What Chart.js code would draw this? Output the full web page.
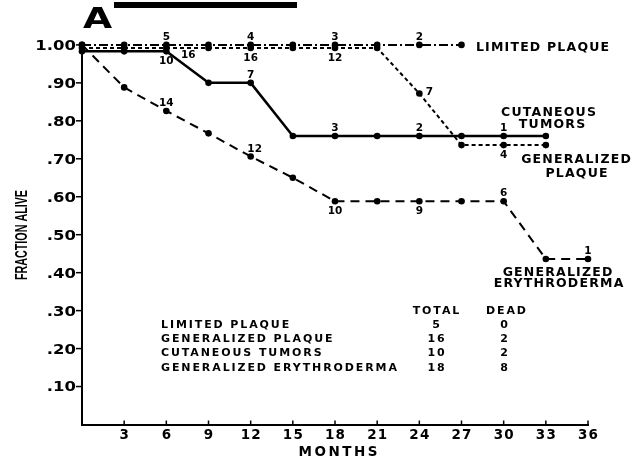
<!DOCTYPE html>
<html>
<head>
<meta charset="utf-8">
<script src="https://cdn.jsdelivr.net/npm/chart.js@4.4.1/dist/chart.umd.min.js"></script>
<style>
  html, body { margin: 0; padding: 0; background: #fff; }
</style>
</head>
<body>
<canvas id="survival" width="634" height="459"></canvas>
<script>
// months of follow-up, one entry per point (every 3 months)
const months = [0, 3, 6, 9, 12, 15, 18, 21, 24, 27, 30, 33, 36];

// fraction alive per group
const limitedPlaque = [1.00, 1.00, 1.00, 1.00, 1.00, 1.00, 1.00, 1.00, 1.00, 1.00];
const generalizedPlaque = [0.992, 0.992, 0.992, 0.992, 0.992, 0.992, 0.992, 0.992, 0.872, 0.736, 0.736, 0.736];
const cutaneousTumors = [0.983, 0.983, 0.983, 0.90, 0.90, 0.76, 0.76, 0.76, 0.76, 0.76, 0.76, 0.76];
const generalizedErythroderma = [1.00, 0.888, 0.826, 0.767, 0.706, 0.65, 0.588, 0.588, 0.588, 0.588, 0.588, 0.436, 0.436];

// patients still at risk, written beside some points
const limitedAtRisk = [null, null, 5, null, 4, null, 3, null, 2, null];
const plaqueAtRisk = [null, null, 16, null, 16, null, 12, null, 7, null, 4, null];
const tumorsAtRisk = [null, null, 10, null, 7, null, 3, null, 2, null, 1, null];
const erythroAtRisk = [null, null, 14, null, 12, null, 10, null, 9, null, 6, null, 1];

// summary table
const groupNames = ['LIMITED PLAQUE', 'GENERALIZED PLAQUE', 'CUTANEOUS TUMORS', 'GENERALIZED ERYTHRODERMA'];
const groupTotal = [5, 16, 10, 18];
const groupDead = [0, 2, 2, 8];

const xTickValues = [3, 6, 9, 12, 15, 18, 21, 24, 27, 30, 33, 36];
const yTickValues = [0.1, 0.2, 0.3, 0.4, 0.5, 0.6, 0.7, 0.8, 0.9, 1.0];
const yTickLabels = ['.10', '.20', '.30', '.40', '.50', '.60', '.70', '.80', '.90', '1.00'];

const INK = '#000';
const FONT = '"DejaVu Sans", sans-serif';

function points(values) {
    return values.map((v, i) => ({ x: months[i], y: v }));
}

// where the at-risk number goes relative to its point
const ABOVE = [0, -9];
const BELOW = [0, 9];
const offsetLimited = () => ABOVE;
const offsetPlaque = m => m === 6 ? [22, 6] : m === 24 ? [10, -2] : BELOW;
const offsetTumors = m => m === 6 ? BELOW : ABOVE;
const offsetErythro = m => (m === 18 || m === 24) ? BELOW : m === 12 ? [4, -8] : ABOVE;

// text helper: cy is the vertical middle of capital letters
function text(ctx, str, x, cy, o) {
    const size = o.size || 12;
    ctx.save();
    ctx.font = (o.weight || 'bold') + ' ' + size + 'px ' + (o.family || FONT);
    ctx.letterSpacing = (o.spacing || 0) + 'px';
    ctx.textAlign = 'left';
    ctx.textBaseline = 'alphabetic';
    ctx.fillStyle = INK;
    const sx = o.sx || 1;
    const w = (ctx.measureText(str).width - (o.spacing || 0)) * sx;
    let left = x;
    if (o.align === 'center') left = x - w / 2;
    else if (o.align === 'right') left = x - w;
    ctx.translate(left, cy + size * 0.365);
    ctx.scale(sx, 1);
    ctx.fillText(str, 0, 0);
    ctx.restore();
}

const decorations = {
    id: 'decorations',
    afterDraw(chart) {
        const ctx = chart.ctx;
        const xs = chart.scales.x;
        const ys = chart.scales.y;
        const area = chart.chartArea;

        // tick marks and tick labels
        ctx.save();
        ctx.strokeStyle = INK;
        ctx.lineWidth = 1.5;
        xTickValues.forEach(v => {
            const px = xs.getPixelForValue(v);
            ctx.beginPath();
            ctx.moveTo(px, area.bottom);
            ctx.lineTo(px, area.bottom - 4);
            ctx.stroke();
            text(ctx, String(v), px, 434.5, { size: 13.5, spacing: 1.2, align: 'center' });
        });
        yTickValues.forEach((v, i) => {
            const py = ys.getPixelForValue(v);
            ctx.beginPath();
            ctx.moveTo(area.left - 6, py);
            ctx.lineTo(area.left, py);
            ctx.stroke();
            text(ctx, yTickLabels[i], 76, py, { size: 13.5, sx: 1.22, align: 'right' });
        });
        ctx.restore();

        // axis titles
        text(ctx, 'MONTHS', 338, 451, { size: 13.5, spacing: 2.5, align: 'center' });
        ctx.save();
        ctx.translate(21, 235);
        ctx.rotate(-Math.PI / 2);
        ctx.font = 'bold 16px "Liberation Sans", sans-serif';
        const fw = ctx.measureText('FRACTION ALIVE').width;
        text(ctx, 'FRACTION ALIVE', 0, 0, { size: 16, family: '"Liberation Sans", sans-serif', sx: 90 / fw, align: 'center' });
        ctx.restore();

        // panel letter and bar
        text(ctx, 'A', 83, 17.5, { size: 29, sx: 1.3 });
        ctx.fillStyle = INK;
        ctx.fillRect(114, 2, 183, 6);

        // at-risk numbers
        chart.data.datasets.forEach((ds, i) => {
            const meta = chart.getDatasetMeta(i);
            ds.atRisk.forEach((n, j) => {
                if (n === null) return;
                const el = meta.data[j];
                const off = ds.countOffset(months[j]);
                text(ctx, String(n), el.x + off[0], el.y + off[1], { size: 10.5, align: 'center' });
            });
        });

        // curve names
        const nameStyle = { size: 12.5, spacing: 1.2, align: 'center' };
        text(ctx, 'LIMITED PLAQUE', 542.5, 46, nameStyle);
        text(ctx, 'CUTANEOUS', 548.5, 111, nameStyle);
        text(ctx, 'TUMORS', 552, 123, nameStyle);
        text(ctx, 'GENERALIZED', 576, 158.5, nameStyle);
        text(ctx, 'PLAQUE', 576.5, 172, nameStyle);
        text(ctx, 'GENERALIZED', 557.5, 271.5, nameStyle);
        text(ctx, 'ERYTHRODERMA', 558.5, 282.5, nameStyle);

        // table of totals
        const cell = { size: 11, spacing: 1.9 };
        text(ctx, 'TOTAL', 436, 310, Object.assign({ align: 'center' }, cell));
        text(ctx, 'DEAD', 506, 310, Object.assign({ align: 'center' }, cell));
        groupNames.forEach((name, i) => {
            const cy = 324 + i * 14.2;
            text(ctx, name, 161, cy, cell);
            text(ctx, String(groupTotal[i]), 436, cy, Object.assign({ align: 'center' }, cell));
            text(ctx, String(groupDead[i]), 504, cy, Object.assign({ align: 'center' }, cell));
        });
    }
};

function series(values, atRisk, dash, width, countOffset) {
    return {
        data: points(values),
        atRisk: atRisk,
        countOffset: countOffset,
        borderColor: INK,
        backgroundColor: INK,
        borderWidth: width,
        borderDash: dash,
        pointRadius: 3.3,
        pointBorderWidth: 0,
        pointBackgroundColor: INK,
        tension: 0,
        clip: false
    };
}

new Chart(document.getElementById('survival'), {
    type: 'line',
    data: {
        datasets: [
            series(limitedPlaque, limitedAtRisk, [9, 3, 2, 3], 2, offsetLimited),
            series(generalizedPlaque, plaqueAtRisk, [4, 3], 2, offsetPlaque),
            series(cutaneousTumors, tumorsAtRisk, [], 2.5, offsetTumors),
            series(generalizedErythroderma, erythroAtRisk, [9, 6], 2, offsetErythro)
        ]
    },
    options: {
        responsive: false,
        animation: false,
        devicePixelRatio: 1,
        layout: { padding: { left: 0, top: 43, right: 46, bottom: 0 } },
        plugins: {
            legend: { display: false },
            tooltip: { enabled: false }
        },
        scales: {
            x: {
                type: 'linear',
                min: 0,
                max: 36,
                ticks: { display: false },
                grid: { display: false, drawTicks: false },
                border: { display: true, color: INK, width: 2 },
                afterFit: s => { s.height = 34.5; }
            },
            y: {
                min: 0,
                max: 1.005,
                ticks: { display: false },
                grid: { display: false, drawTicks: false },
                border: { display: true, color: INK, width: 2 },
                afterFit: s => { s.width = 82; }
            }
        }
    },
    plugins: [decorations]
});
</script>
</body>
</html>
